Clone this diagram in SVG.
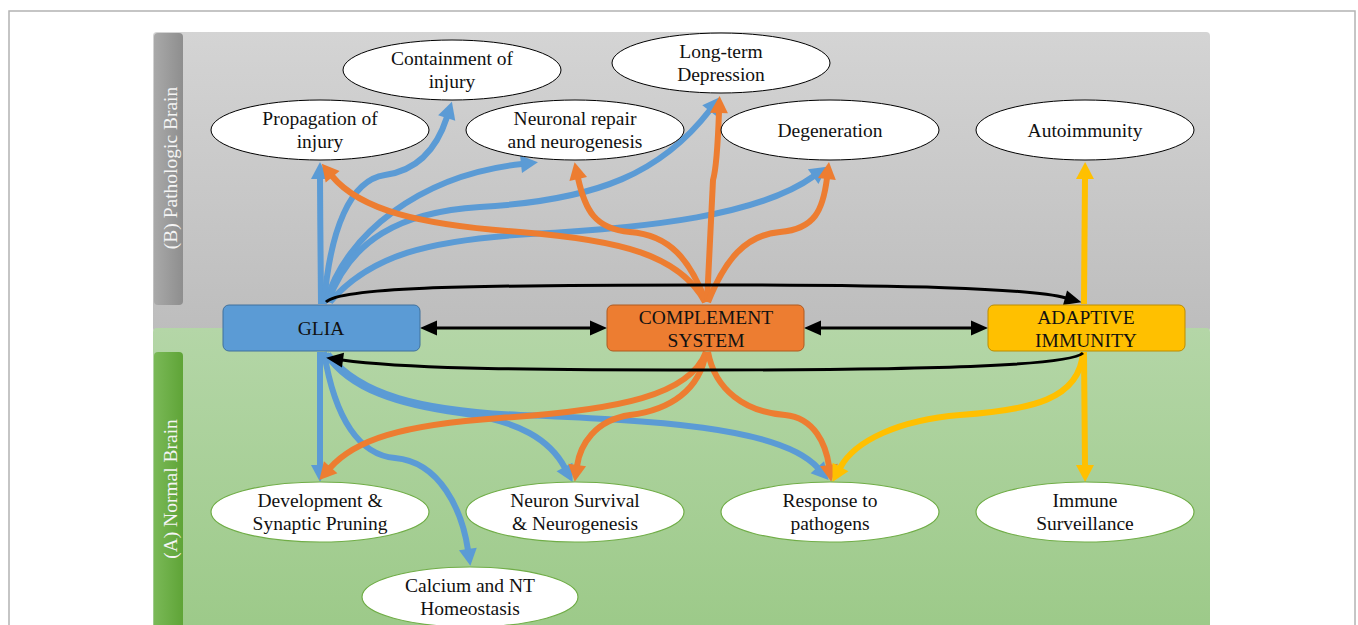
<svg xmlns="http://www.w3.org/2000/svg" width="1358" height="625" viewBox="0 0 1358 625">
<style>
.el{fill:#fff;stroke:#000;stroke-width:1}
.elg{fill:#fff;stroke:#70ad47;stroke-width:1.2}
.t{font-family:"Liberation Serif","Times New Roman",serif;font-size:19.5px;fill:#111;text-anchor:middle}
.lbl{font-family:"Liberation Serif","Times New Roman",serif;font-size:19.5px;fill:#f4f4f4;text-anchor:middle}
.b{fill:none;stroke:#5b9bd5;stroke-width:6}
.o{fill:none;stroke:#ed7d31;stroke-width:6}
.y{fill:none;stroke:#ffc000;stroke-width:6}
.k{fill:none;stroke:#000;stroke-width:3}
</style>
<defs>
<linearGradient id="gGray" x1="0" y1="0" x2="0" y2="1"><stop offset="0" stop-color="#d4d4d4"/><stop offset="1" stop-color="#bdbdbd"/></linearGradient>
<linearGradient id="gGreen" x1="0" y1="0" x2="0" y2="1"><stop offset="0" stop-color="#b4d6a7"/><stop offset="1" stop-color="#9bc987"/></linearGradient>
<linearGradient id="gBarGray" x1="0" y1="0" x2="1" y2="0"><stop offset="0" stop-color="#a9a9a9"/><stop offset="1" stop-color="#8e8e8e"/></linearGradient>
<linearGradient id="gBarGreen" x1="0" y1="0" x2="1" y2="0"><stop offset="0" stop-color="#7ab957"/><stop offset="1" stop-color="#5fa437"/></linearGradient>
<marker id="mb" markerUnits="userSpaceOnUse" orient="auto" overflow="visible" markerWidth="20" markerHeight="20" refX="0" refY="0"><path d="M-1,-9 L16,0 L-1,9z" fill="#5b9bd5"/></marker>
<marker id="mo" markerUnits="userSpaceOnUse" orient="auto" overflow="visible" markerWidth="20" markerHeight="20" refX="0" refY="0"><path d="M-1,-9 L16,0 L-1,9z" fill="#ed7d31"/></marker>
<marker id="my" markerUnits="userSpaceOnUse" orient="auto" overflow="visible" markerWidth="20" markerHeight="20" refX="0" refY="0"><path d="M-1,-9 L16,0 L-1,9z" fill="#ffc000"/></marker>
<marker id="mk" markerUnits="userSpaceOnUse" orient="auto-start-reverse" overflow="visible" markerWidth="20" markerHeight="20" refX="0" refY="0"><path d="M-1,-7.5 L16,0 L-1,7.5z" fill="#000"/></marker>
</defs>

<rect x="9" y="11" width="1346" height="700" fill="#fff" stroke="#b3b3b3" stroke-width="1.5"/>

<g id="panel-pathologic">
<rect x="153" y="32" width="1057" height="300" rx="4" fill="url(#gGray)"/>
<rect x="154" y="33" width="29" height="272" rx="4" fill="url(#gBarGray)"/>
<text class="lbl" transform="translate(177,168) rotate(-90)">(B) Pathologic Brain</text>
</g>
<g id="panel-normal">
<rect x="153" y="328" width="1057" height="320" rx="4" fill="url(#gGreen)"/>
<rect x="154" y="352" width="29" height="300" rx="4" fill="url(#gBarGreen)"/>
<text class="lbl" transform="translate(177,489) rotate(-90)">(A) Normal Brain</text>
</g>

<g id="connectors">
<!-- blue up -->
<path class="b" marker-end="url(#mb)" d="M321,304 C321,260 320,220 320,178"/>
<path class="b" marker-end="url(#mb)" d="M324,304 C330,230 350,180 385,175 C420,170 438,145 447,117"/>
<path class="b" marker-end="url(#mb)" d="M326,302 C345,235 420,175 522,164"/>
<path class="b" marker-end="url(#mb)" d="M328,302 C350,240 400,212 480,207 C600,200 662,172 710,110"/>
<path class="b" marker-end="url(#mb)" d="M330,302 C370,255 430,240 530,234 C650,228 760,215 814,176"/>
<!-- orange up -->
<path class="o" marker-end="url(#mo)" d="M705,302 C680,255 620,240 520,232 C420,225 360,210 332,176"/>
<path class="o" marker-end="url(#mo)" d="M706,302 C690,260 670,235 630,232 C595,229 585,210 578,178"/>
<path class="o" marker-end="url(#mo)" d="M707,302 C710,240 712,200 713,180 C716,170 718,140 719,112"/>
<path class="o" marker-end="url(#mo)" d="M708,302 C725,260 745,235 780,232 C815,229 823,210 827,178"/>
<!-- yellow up -->
<path class="y" marker-end="url(#my)" d="M1084,304 L1085,178"/>
<!-- blue down -->
<path class="b" marker-end="url(#mb)" d="M320,352 L320,466"/>
<path class="b" marker-end="url(#mb)" d="M324,352 C335,420 360,455 395,458 C440,462 462,510 468,550"/>
<path class="b" marker-end="url(#mb)" d="M326,354 C350,390 400,405 460,413 C520,421 550,440 565,468"/>
<path class="b" marker-end="url(#mb)" d="M328,354 C360,395 420,410 520,415 C640,420 780,425 818,468"/>
<!-- orange down -->
<path class="o" marker-end="url(#mo)" d="M706,352 C690,395 620,410 500,418 C400,425 355,440 330,468"/>
<path class="o" marker-end="url(#mo)" d="M706,352 C700,390 670,410 630,415 C595,420 580,445 577,466"/>
<path class="o" marker-end="url(#mo)" d="M708,352 C715,390 745,412 785,415 C815,418 826,445 829,466"/>
<!-- yellow down -->
<path class="y" marker-end="url(#my)" d="M1084,352 L1085,466"/>
<path class="y" marker-end="url(#my)" d="M1083,352 C1080,400 1030,410 960,415 C900,420 855,440 840,468"/>
<!-- black -->
<path class="k" marker-start="url(#mk)" marker-end="url(#mk)" d="M436,328 L591,328"/>
<path class="k" marker-start="url(#mk)" marker-end="url(#mk)" d="M820,328 L972,328"/>
<path class="k" marker-end="url(#mk)" d="M326,302 C340,288 450,285 700,285 C900,285 1030,288 1066,298"/>
<path class="k" marker-end="url(#mk)" d="M1083,353 C1070,365 950,370 700,370 C500,370 400,368 342,360"/>
</g>

<g id="node-glia"><rect x="223" y="305" width="197" height="46" rx="6" fill="#5b9bd5" stroke="#41719c"/><text class="t" x="321" y="335">GLIA</text></g>
<g id="node-complement"><rect x="607" y="305" width="197" height="46" rx="6" fill="#ed7d31" stroke="#ae5a21"/><text class="t" x="706" y="324">COMPLEMENT</text><text class="t" x="706" y="347">SYSTEM</text></g>
<g id="node-adaptive"><rect x="988" y="305" width="197" height="46" rx="6" fill="#ffc000" stroke="#bc8c00"/><text class="t" x="1086" y="324">ADAPTIVE</text><text class="t" x="1086" y="347">IMMUNITY</text></g>

<g id="node-propagation"><ellipse class="el" cx="320" cy="130" rx="109" ry="30"/><text class="t" x="320" y="125">Propagation of</text><text class="t" x="320" y="148">injury</text></g>
<g id="node-containment"><ellipse class="el" cx="452" cy="70" rx="109" ry="30"/><text class="t" x="452" y="65">Containment of</text><text class="t" x="452" y="88">injury</text></g>
<g id="node-repair"><ellipse class="el" cx="575" cy="130" rx="109" ry="30"/><text class="t" x="575" y="125">Neuronal repair</text><text class="t" x="575" y="148">and neurogenesis</text></g>
<g id="node-ltd"><ellipse class="el" cx="721" cy="63" rx="109" ry="30"/><text class="t" x="721" y="58">Long-term</text><text class="t" x="721" y="81">Depression</text></g>
<g id="node-degeneration"><ellipse class="el" cx="830" cy="130" rx="109" ry="30"/><text class="t" x="830" y="137">Degeneration</text></g>
<g id="node-autoimmunity"><ellipse class="el" cx="1085" cy="130" rx="109" ry="30"/><text class="t" x="1085" y="137">Autoimmunity</text></g>

<g id="node-development"><ellipse class="elg" cx="320" cy="512" rx="109" ry="30"/><text class="t" x="320" y="507">Development &amp;</text><text class="t" x="320" y="530">Synaptic Pruning</text></g>
<g id="node-survival"><ellipse class="elg" cx="575" cy="512" rx="109" ry="30"/><text class="t" x="575" y="507">Neuron Survival</text><text class="t" x="575" y="530">&amp; Neurogenesis</text></g>
<g id="node-response"><ellipse class="elg" cx="830" cy="512" rx="109" ry="30"/><text class="t" x="830" y="507">Response to</text><text class="t" x="830" y="530">pathogens</text></g>
<g id="node-surveillance"><ellipse class="elg" cx="1085" cy="512" rx="109" ry="30"/><text class="t" x="1085" y="507">Immune</text><text class="t" x="1085" y="530">Surveillance</text></g>
<g id="node-calcium"><ellipse class="elg" cx="470" cy="597" rx="108" ry="30"/><text class="t" x="470" y="592">Calcium and NT</text><text class="t" x="470" y="615">Homeostasis</text></g>
</svg>
